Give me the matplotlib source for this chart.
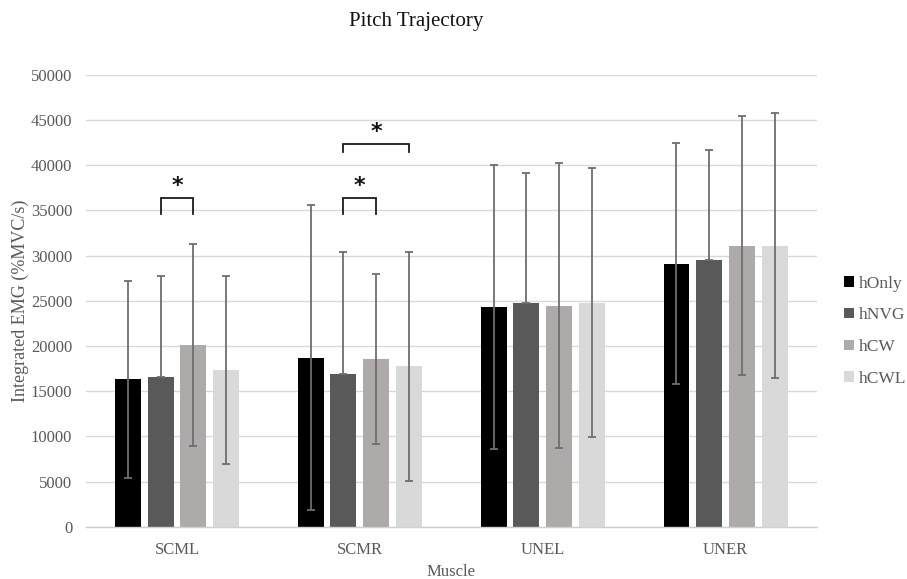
import matplotlib
matplotlib.use("Agg")
import matplotlib.pyplot as plt
import numpy as np
from matplotlib.patches import Patch

plt.rcParams['font.family'] = ['Liberation Serif', 'DejaVu Serif']

muscles = ["SCML", "SCMR", "UNEL", "UNER"]
conditions = ["hOnly", "hNVG", "hCW", "hCWL"]
colors = ["#000000", "#595959", "#AEAAAA", "#D9D9D9"]

h_only = [16300, 18700, 24300, 29100]
h_nvg = [16600, 16850, 24780, 29500]
h_cw = [20100, 18600, 24450, 31100]
h_cwl = [17300, 17750, 24800, 31100]

sd_only = [10900, 16900, 15750, 13300]
sd_nvg = [11100, 13550, 14400, 12200]
sd_cw = [11150, 9400, 15750, 14350]
sd_cwl = [10400, 12650, 14900, 14700]

# lower error bars shown per condition (hNVG shows only the upper half)
show_lower = [True, False, True, True]

# significance brackets: (muscle index, first condition, second condition, bracket height, leg length)
brackets = [(0, 1, 2, 36400, 1800), (1, 1, 2, 36400, 1850), (1, 1, 3, 42300, 850)]

means = [h_only, h_nvg, h_cw, h_cwl]
sds = [sd_only, sd_nvg, sd_cw, sd_cwl]

fig = plt.figure(figsize=(9.07, 5.79), dpi=100)
ax = fig.add_axes([0.0943, 0.0903, 0.8065, 0.7807])

x = np.arange(len(muscles))
width = 0.142
pitch = 0.179
offsets = (np.arange(4) - 1.5) * pitch

for i in range(4):
    xs = x + offsets[i]
    ax.bar(xs, means[i], width=width, color=colors[i], edgecolor="none", zorder=2)
    lower = sds[i] if show_lower[i] else [0] * len(sds[i])
    ax.errorbar(xs, means[i], yerr=[lower, sds[i]], fmt="none", ecolor="#6E6E6E",
                elinewidth=1.3, capsize=2.9, capthick=1.3, zorder=3)

for m, a, b, yb, leg in brackets:
    xa = x[m] + offsets[a]
    xb = x[m] + offsets[b]
    ax.plot([xa, xa, xb, xb], [yb - leg, yb, yb, yb - leg],
            color="#1a1a1a", lw=1.3, zorder=4, solid_joinstyle="miter")
    ax.text((xa + xb) / 2, yb + 200, "*", ha="center", va="bottom",
            fontsize=16, fontweight="bold", family="DejaVu Sans", color="#111111")

ax.set_xlim(-0.5, len(muscles) - 0.5)
ax.set_ylim(0, 50000)
ax.set_yticks(np.arange(0, 50001, 5000))
ax.set_xticks(x)
ax.set_xticklabels(muscles)
ax.yaxis.grid(True, color="#D9D9D9", lw=1.0, zorder=0)
ax.set_axisbelow(True)
for s in ["top", "right", "left"]:
    ax.spines[s].set_visible(False)
ax.spines["bottom"].set_color("#D0D0D0")
ax.spines["bottom"].set_linewidth(1.0)
ax.tick_params(axis="both", length=0, labelsize=12, labelcolor="#595959")
ax.tick_params(axis="y", pad=9.5)
ax.tick_params(axis="x", pad=11)

ax.set_ylabel("Integrated EMG (%MVC/s)", fontsize=13, color="#595959", labelpad=1)
ax.set_xlabel("Muscle", fontsize=12, color="#595959", labelpad=4)
fig.text(0.4587, 0.963, "Pitch Trajectory", ha="center", va="center", fontsize=15, color="#111111")

handles = [Patch(facecolor=c, edgecolor="none") for c in colors]
fig.legend(handles, conditions, loc="center left", bbox_to_anchor=(0.931, 0.428),
           frameon=False, fontsize=12.5, labelcolor="#595959",
           handlelength=0.55, handleheight=0.55, handletextpad=0.3, labelspacing=0.9,
           borderaxespad=0, borderpad=0)

fig.savefig("out.png", dpi=100)
